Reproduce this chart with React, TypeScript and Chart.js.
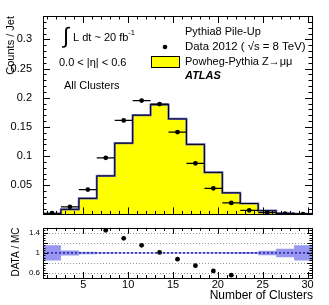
import React, { useEffect, useRef } from 'react';
import { Chart, registerables } from 'chart.js';
Chart.register(...registerables);

const FONT = '"Liberation Sans", Arial, Helvetica, sans-serif';

// ---------------- data ----------------
const binEdges = [0.5, 2.5, 4.5, 6.5, 8.5, 10.5, 12.5, 14.5, 16.5, 18.5, 20.5, 22.5, 24.5, 26.5, 28.5, 30.5];
const binCenters = [1.5, 3.5, 5.5, 7.5, 9.5, 11.5, 13.5, 15.5, 17.5, 19.5, 21.5, 23.5, 25.5, 27.5, 29.5];
const dataCounts = [0.002, 0.013, 0.0425, 0.097, 0.161, 0.195, 0.189, 0.141, 0.0875, 0.0447, 0.0197, 0.007, 0.003, 0.0013, 0.0005];
const mcCounts = [0.0008, 0.0087, 0.0275, 0.066, 0.122, 0.170, 0.188, 0.1637, 0.120, 0.072, 0.037, 0.0187, 0.0063, 0.002, 0.001];
const ratioValues = [null, null, null, 1.45, 1.29, 1.15, 1.01, 0.875, 0.745, 0.64, 0.556, null, null, null, null];
const mcBandHalf = [0.15, 0.05, 0.025, 0.015, 0.01, 0.01, 0.01, 0.01, 0.01, 0.012, 0.015, 0.02, 0.045, 0.085, 0.15];
const mainYTicks = [0.05, 0.1, 0.15, 0.2, 0.25, 0.3];
const ratioYTicks = [0.6, 0.8, 1, 1.2, 1.4];
const xTicks = [5, 10, 15, 20, 25, 30];
const X_MIN = 0.5, X_MAX = 30.5;
const Y_MAX = 0.34;
const R_MIN = 0.5, R_MAX = 1.5;

const stepPoints = (vals: number[]) => {
  const pts = [{ x: binEdges[0], y: 0 }];
  vals.forEach((v, i) => pts.push({ x: binEdges[i], y: v }));
  pts.push({ x: binEdges[binEdges.length - 1], y: vals[vals.length - 1] });
  return pts;
};

// ---------------- plugins ----------------
const frameTicks = {
  id: 'frameTicks',
  afterDraw(chart: any, _args: any, opts: any) {
    const { ctx, chartArea: a, scales } = chart;
    const xs = scales.x, ys = scales.y;
    ctx.save();
    ctx.strokeStyle = '#000';
    ctx.lineWidth = 1;
    ctx.strokeRect(Math.round(a.left) + 0.5, Math.round(a.top) + 0.5, Math.round(a.right - a.left), Math.round(a.bottom - a.top));
    ctx.beginPath();
    const loop = (min: number, max: number, step: number, major: number, fn: (v: number, isMajor: boolean) => void) => {
      for (let k = Math.ceil(min / step - 1e-9); k * step <= max + 1e-9; k++) {
        const v = k * step;
        const r = v / major;
        fn(v, Math.abs(r - Math.round(r)) < 1e-6);
      }
    };
    loop(xs.min, xs.max, opts.xMinor, opts.xMajor, (v, m) => {
      const px = Math.round(xs.getPixelForValue(v)) + 0.5;
      const l = m ? opts.xMajLen : opts.xMinLen;
      ctx.moveTo(px, a.bottom); ctx.lineTo(px, a.bottom - l);
      ctx.moveTo(px, a.top); ctx.lineTo(px, a.top + l);
    });
    loop(ys.min, ys.max, opts.yMinor, opts.yMajor, (v, m) => {
      const py = Math.round(ys.getPixelForValue(v)) + 0.5;
      const l = m ? opts.yMajLen : opts.yMinLen;
      ctx.moveTo(a.left, py); ctx.lineTo(a.left + l, py);
      ctx.moveTo(a.right, py); ctx.lineTo(a.right - l, py);
    });
    ctx.stroke();
    ctx.restore();
  },
};

const errorBars = {
  id: 'errorBars',
  afterDatasetsDraw(chart: any) {
    const { ctx } = chart;
    const xs = chart.scales.x;
    chart.data.datasets.forEach((ds: any, i: number) => {
      if (!ds.errX) return;
      const meta = chart.getDatasetMeta(i);
      ctx.save();
      ctx.strokeStyle = '#000';
      ctx.lineWidth = 1.2;
      ctx.beginPath();
      meta.data.forEach((pt: any, j: number) => {
        const d = ds.data[j];
        if (d == null || d.y == null) return;
        ctx.moveTo(xs.getPixelForValue(d.x - ds.errX), pt.y);
        ctx.lineTo(xs.getPixelForValue(d.x + ds.errX), pt.y);
      });
      ctx.stroke();
      ctx.restore();
    });
  },
};

const text = (ctx: any, s: string, x: number, y: number, size: number, style = '', align = 'left') => {
  ctx.font = `${style} ${size}px ${FONT}`;
  ctx.textAlign = align;
  ctx.textBaseline = 'middle';
  ctx.fillText(s, x, y);
};

const mainText = {
  id: 'mainText',
  afterDraw(chart: any) {
    const ctx = chart.ctx;
    ctx.save();
    ctx.fillStyle = '#000';
    // y title
    ctx.save();
    ctx.translate(11, 16);
    ctx.rotate(-Math.PI / 2);
    text(ctx, 'Counts / Jet', 0, 0, 11, '', 'right');
    ctx.restore();
    // left annotations
    text(ctx, '\u222B', 63, 37, 22);
    text(ctx, 'L dt ~ 20 fb', 73, 38, 11);
    ctx.font = `11px ${FONT}`;
    const w = ctx.measureText('L dt ~ 20 fb').width;
    text(ctx, '-1', 73 + w, 33, 7.5);
    text(ctx, '0.0 < |\u03B7| < 0.6', 59, 63, 11);
    text(ctx, 'All Clusters', 64, 86, 11);
    // legend
    text(ctx, 'Pythia8 Pile-Up', 185, 32, 11);
    ctx.beginPath();
    ctx.arc(165, 47, 2.3, 0, Math.PI * 2);
    ctx.fill();
    text(ctx, 'Data 2012 ( \u221As = 8 TeV)', 185, 47, 11.4);
    ctx.fillStyle = '#ffff00';
    ctx.fillRect(151, 56, 28, 11);
    ctx.strokeStyle = '#000';
    ctx.lineWidth = 1;
    ctx.strokeRect(151.5, 56.5, 28, 11);
    ctx.fillStyle = '#000';
    text(ctx, 'Powheg-Pythia Z\u2192\u03BC\u03BC', 185, 61.5, 11);
    text(ctx, 'ATLAS', 185, 76, 11, 'italic bold');
    ctx.restore();
  },
};

const ratioText = {
  id: 'ratioText',
  afterDraw(chart: any) {
    const ctx = chart.ctx;
    ctx.save();
    ctx.fillStyle = '#000';
    ctx.save();
    ctx.translate(16, 32);
    ctx.rotate(-Math.PI / 2);
    text(ctx, 'DATA / MC', 0, 0, 10, '', 'center');
    ctx.restore();
    text(ctx, 'Number of Clusters', 313, 76, 12, '', 'right');
    ctx.restore();
  },
};

const ratioGrid = {
  id: 'ratioGrid',
  beforeDatasetsDraw(chart: any) {
    const { ctx, chartArea: a, scales } = chart;
    ctx.save();
    ctx.strokeStyle = '#999';
    ctx.lineWidth = 1;
    ctx.setLineDash([1, 2]);
    ctx.beginPath();
    ratioYTicks.forEach((v) => {
      if (v === 1) return;
      const py = Math.round(scales.y.getPixelForValue(v)) + 0.5;
      ctx.moveTo(a.left, py); ctx.lineTo(a.right, py);
    });
    ctx.stroke();
    ctx.restore();
  },
};

// ---------------- charts ----------------
function MainChart() {
  const ref = useRef<HTMLCanvasElement>(null);
  useEffect(() => {
    const chart = new Chart(ref.current as HTMLCanvasElement, {
      type: 'line',
      data: {
        datasets: [
          {
            label: 'Data',
            data: binCenters.map((x, i) => ({ x, y: dataCounts[i] })),
            showLine: false,
            pointRadius: 2.4,
            pointBackgroundColor: '#000',
            pointBorderColor: '#000',
            pointBorderWidth: 0,
            errX: 1,
          } as any,
          {
            label: 'MC line',
            data: stepPoints(mcCounts),
            stepped: 'before',
            borderColor: '#000',
            borderWidth: 1,
            pointRadius: 0,
            fill: false,
          },
          {
            label: 'MC band',
            data: stepPoints(mcCounts),
            stepped: 'before',
            borderColor: '#6a6ad2',
            borderWidth: 2.2,
            pointRadius: 0,
            fill: false,
          },
          {
            label: 'MC',
            data: stepPoints(mcCounts),
            stepped: 'before',
            borderWidth: 0,
            borderColor: 'rgba(0,0,0,0)',
            backgroundColor: '#ffff00',
            pointRadius: 0,
            fill: 'origin',
          },
        ],
      },
      options: {
        animation: false,
        responsive: false,
        devicePixelRatio: 1,
        layout: { padding: { top: 16, right: 17, bottom: 4, left: 0 } },
        plugins: {
          legend: { display: false },
          tooltip: { enabled: false },
          frameTicks: { xMinor: 1, xMajor: 5, xMajLen: 7, xMinLen: 3.5, yMinor: 0.01, yMajor: 0.05, yMajLen: 7, yMinLen: 3.5 },
        } as any,
        scales: {
          x: { type: 'linear', min: X_MIN, max: X_MAX, display: false },
          y: {
            type: 'linear',
            min: 0,
            max: Y_MAX,
            grid: { display: false },
            border: { display: false },
            afterBuildTicks: (s: any) => { s.ticks = mainYTicks.map((v) => ({ value: v })); },
            afterFit: (s: any) => { s.width = 43; },
            ticks: {
              padding: 3,
              color: '#000',
              font: { family: FONT, size: 11 },
              callback: (v: any) => String(+Number(v).toFixed(2)),
            },
          },
        },
      },
      plugins: [frameTicks, errorBars, mainText],
    });
    return () => chart.destroy();
  }, []);
  return <canvas ref={ref} width={329} height={224} style={{ position: 'absolute', left: 0, top: 0 }} />;
}

function RatioChart() {
  const ref = useRef<HTMLCanvasElement>(null);
  useEffect(() => {
    const upper = mcBandHalf.map((h) => 1 + h);
    const lower = mcBandHalf.map((h) => 1 - h);
    const chart = new Chart(ref.current as HTMLCanvasElement, {
      type: 'line',
      data: {
        datasets: [
          {
            label: 'Ratio',
            data: binCenters.map((x, i) => ({ x, y: ratioValues[i] })),
            showLine: false,
            pointRadius: 2.4,
            pointBackgroundColor: '#000',
            pointBorderColor: '#000',
            pointBorderWidth: 0,
          },
          {
            label: 'Unity',
            data: [{ x: X_MIN, y: 1 }, { x: X_MAX, y: 1 }],
            borderColor: '#22229a',
            borderWidth: 1.5,
            borderDash: [2, 2],
            pointRadius: 0,
            fill: false,
          },
          {
            label: 'Band up',
            data: stepPoints(upper).slice(1),
            stepped: 'before',
            borderWidth: 0,
            borderColor: 'rgba(0,0,0,0)',
            pointRadius: 0,
            fill: false,
          },
          {
            label: 'Band low',
            data: stepPoints(lower).slice(1),
            stepped: 'before',
            borderWidth: 0,
            borderColor: 'rgba(0,0,0,0)',
            backgroundColor: '#9797f2',
            pointRadius: 0,
            fill: '-1',
          },
        ],
      },
      options: {
        animation: false,
        responsive: false,
        devicePixelRatio: 1,
        layout: { padding: { top: 5, right: 17, bottom: 0, left: 0 } },
        plugins: {
          legend: { display: false },
          tooltip: { enabled: false },
          frameTicks: { xMinor: 1, xMajor: 5, xMajLen: 6, xMinLen: 3, yMinor: 0.05, yMajor: 0.2, yMajLen: 5, yMinLen: 2.5 },
        } as any,
        scales: {
          x: {
            type: 'linear',
            min: X_MIN,
            max: X_MAX,
            grid: { display: false, drawTicks: false },
            border: { display: false },
            afterBuildTicks: (s: any) => { s.ticks = xTicks.map((v) => ({ value: v })); },
            afterFit: (s: any) => { s.height = 27; },
            ticks: { padding: 0, color: '#000', maxRotation: 0, font: { family: FONT, size: 11 }, callback: (v: any) => String(v) },
          },
          y: {
            type: 'linear',
            min: R_MIN,
            max: R_MAX,
            grid: { display: false, drawTicks: false },
            border: { display: false },
            afterBuildTicks: (s: any) => { s.ticks = ratioYTicks.map((v) => ({ value: v })); },
            afterFit: (s: any) => { s.width = 43; },
            ticks: { padding: 3, color: '#000', font: { family: FONT, size: 8 }, callback: (v: any) => String(+Number(v).toFixed(1)) },
          },
        },
      },
      plugins: [ratioGrid, frameTicks, ratioText],
    });
    return () => chart.destroy();
  }, []);
  return <canvas ref={ref} width={329} height={85} style={{ position: 'absolute', left: 0, top: 220 }} />;
}

export default function App() {
  return (
    <div style={{ position: 'fixed', left: 0, top: 0, width: 329, height: 305, background: '#fff', overflow: 'hidden' }}>
      <MainChart />
      <RatioChart />
    </div>
  );
}
